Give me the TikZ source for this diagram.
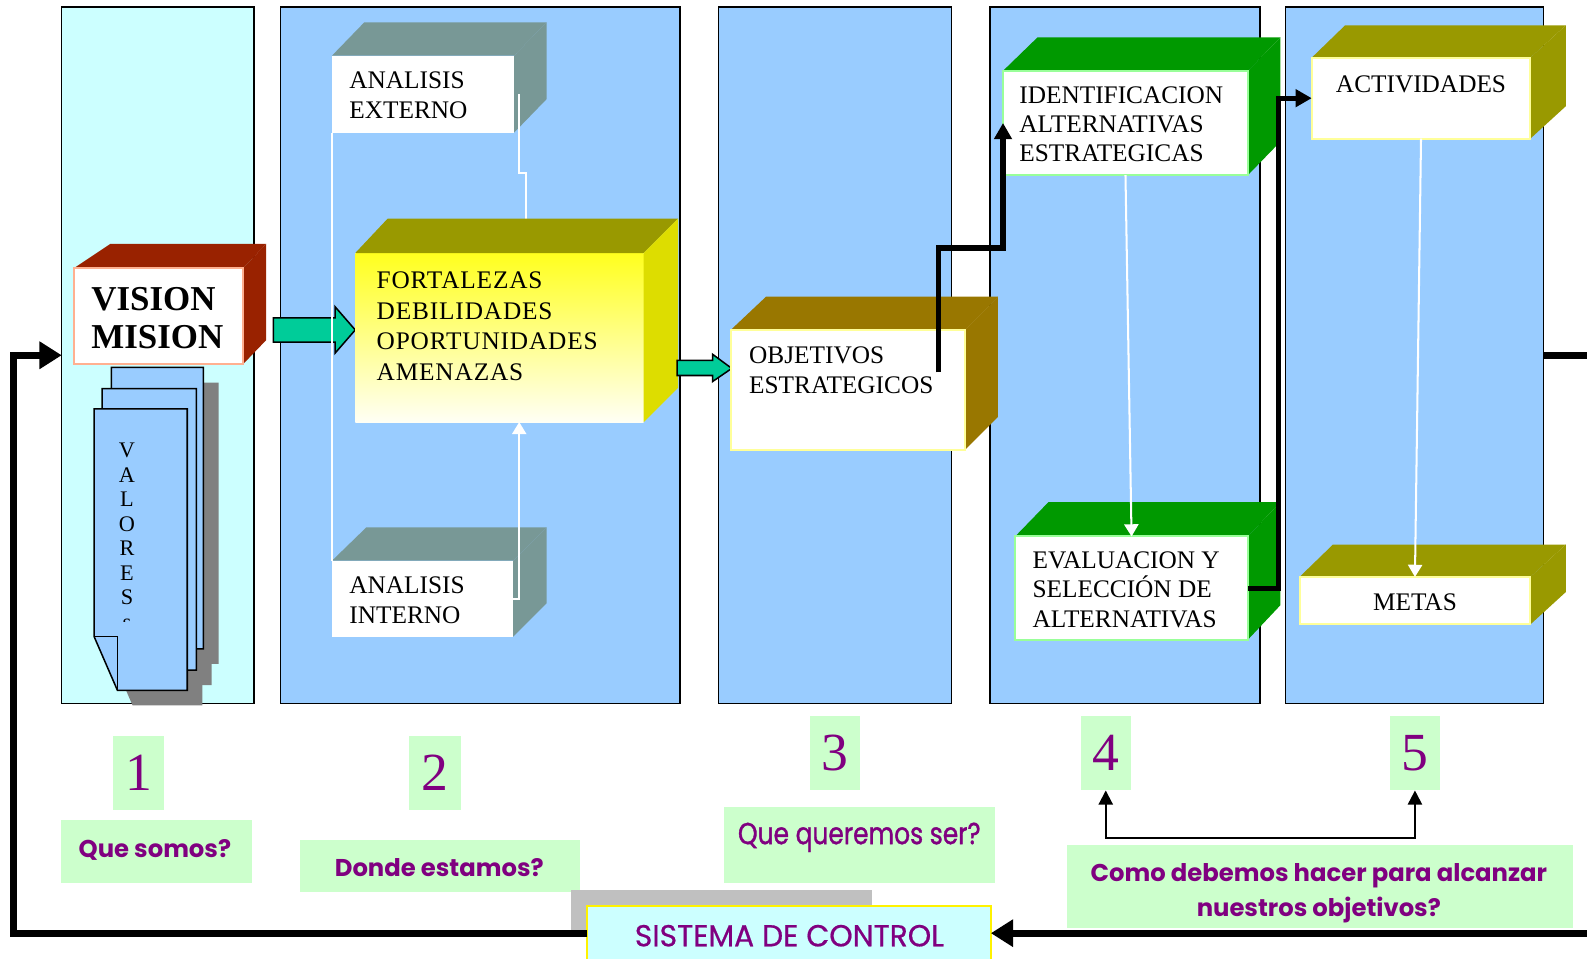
\documentclass[tikz,border=0pt]{standalone}
\usepackage{fontspec}
\setmainfont{Liberation Serif}
\newfontfamily\serifwide{Liberation Serif}[LetterSpace=3.4]
\newfontfamily\lblfont{Poppins}
\newfontfamily\lblnarrow{Poppins}[FakeStretch=0.82,FakeBold=1.2]
\newfontfamily\lblsemi{Poppins}[FakeStretch=0.98,FakeBold=0.6]
\usetikzlibrary{arrows.meta}

\definecolor{panelcyan}{RGB}{204,255,255}
\definecolor{panelblue}{RGB}{153,204,255}
\definecolor{vmred}{RGB}{153,34,0}
\definecolor{vmedge}{RGB}{255,176,144}
\definecolor{slate}{RGB}{120,152,150}
\definecolor{olive}{RGB}{153,153,0}
\definecolor{lemon}{RGB}{221,221,0}
\definecolor{bronze}{RGB}{153,119,0}
\definecolor{leaf}{RGB}{0,153,0}
\definecolor{mint}{RGB}{153,255,153}
\definecolor{paleyellow}{RGB}{255,255,153}
\definecolor{labelgreen}{RGB}{204,255,204}
\definecolor{plum}{RGB}{128,0,128}
\definecolor{jade}{RGB}{0,204,153}
\definecolor{shadowgray}{RGB}{128,128,128}
\definecolor{silver}{RGB}{192,192,192}

% 3D box: front face node, top and side faces, then the front outline
\newcommand\cubebox[6]{%
  \node[cubefront,#3,anchor=north west] (#1) at #2 {};
  \fill[cubetop] (#1.north west) -- ++(#4,-#6) -- ([shift={(#5,-#6)}]#1.north east) -- (#1.north east) -- cycle;
  \fill[cubeside] (#1.north east) -- ([shift={(#5,-#6)}]#1.north east) -- ([shift={(#5,-#6)}]#1.south east) -- (#1.south east) -- cycle;
  \draw[cubeedge] (#1.north west) rectangle (#1.south east);
}
% sheet with a folded lower-left corner, top-left corner at (#1,#2), bottom-right at (#3,#4)
\newcommand\sheetpath[4]{(#1,#2) -- (#3,#2) -- (#3,#4) -- (#1+23,#4) -- (#1,#4-53) -- cycle}

\tikzset{
  panel/.style={draw=black, line width=1.5pt, anchor=north west, inner sep=0pt, outer sep=0pt, minimum height=688pt},
  cubefront/.style={fill=white, draw=none, inner sep=0pt, outer sep=0pt},
  cubetop/.style={fill=olive},
  cubeside/.style={fill=olive},
  cubeedge/.style={draw=none},
  boxtext/.style={font=\rmfamily\fontsize{25}{29.5}\selectfont, inner sep=0pt, align=left, anchor=north west},
  docpage/.style={fill=panelblue, draw=black, line width=1.5pt, line join=miter},
  docshadow/.style={fill=shadowgray},
  blockarrow/.style={fill=jade, draw=black, line width=1.5pt, line join=miter},
  wline/.style={draw=white, line width=2pt},
  warrow/.style={draw=white, line width=2pt, -{Triangle[width=14pt,length=12pt]}},
  conn/.style={line width=5pt, line join=miter, -{Triangle[width=17pt,length=16pt]}},
  loopline/.style={line width=7pt, line join=miter},
  looptip/.style={-{Triangle[width=26pt,length=22pt]}},
  numbox/.style={fill=labelgreen, inner sep=0pt, outer sep=0pt, anchor=north west, text=plum, font=\rmfamily\fontsize{53}{53}\selectfont},
  qbox/.style={fill=labelgreen, inner sep=0pt, outer sep=0pt, anchor=north west},
  qtext/.style={text=plum, inner sep=0pt, anchor=base, font=\lblfont\bfseries\fontsize{24}{30}\selectfont},
}

\begin{document}
\begin{tikzpicture}[x=1pt,y=-1pt]
\useasboundingbox (0,0) rectangle (1568,947);
\fill[white] (0,0) rectangle (1568,947);

% ---------- columns ----------
\node[panel, fill=panelcyan, minimum width=190pt] (p1) at (61,7) {};
\node[panel, fill=panelblue, minimum width=395pt] (p2) at (277,7) {};
\node[panel, fill=panelblue, minimum width=230pt] (p3) at (710,7) {};
\node[panel, fill=panelblue, minimum width=267pt] (p4) at (978,7) {};
\node[panel, fill=panelblue, minimum width=255pt] (p5) at (1270,7) {};

% ---------- stack of value sheets ----------
\begin{scope}[shift={(15,15)}]
  \fill[docshadow] \sheetpath{110}{363}{201}{641};
  \fill[docshadow] \sheetpath{101}{384}{194}{662};
  \fill[docshadow] \sheetpath{93}{404}{185}{682};
\end{scope}
\draw[docpage] \sheetpath{110}{363}{201}{641};
\draw[docpage] \sheetpath{101}{384}{194}{662};
\draw[docpage] \sheetpath{93}{404}{185}{682};
\draw[black, line width=1.5pt] (93,629) -- (116,629) -- (116,682);
\begin{scope}
  \clip (93,404) rectangle (185,614);
  \node[inner sep=0pt, anchor=north, align=center, font=\fontsize{22}{24.2}\selectfont] (valores)
    at (125.5,437.6) {V\\A\\L\\O\\R\\E\\S\\s};
\end{scope}

% ---------- vision / mission ----------
\begin{scope}[cubetop/.style={fill=vmred}, cubeside/.style={fill=vmred}, cubeedge/.style={draw=vmedge, line width=2pt}]
  \cubebox{vm}{(73,265)}{minimum width=167pt,minimum height=95pt}{36}{23}{24}
\end{scope}
\node[boxtext, font=\bfseries\fontsize{34.5}{37.5}\selectfont] (vmt) at (90,283.4) {VISION\\MISION};

\draw[blockarrow] (270,314) -- (331,314) -- (331,303) -- (351,326) -- (331,349) -- (331,338) -- (270,338) -- cycle;

% ---------- diagnosis ----------
\begin{scope}[cubetop/.style={fill=slate}, cubeside/.style={fill=slate}]
  \cubebox{ae}{(328,55)}{minimum width=180pt,minimum height=76pt}{32}{32}{33}
  \cubebox{ai}{(328,554)}{minimum width=179pt,minimum height=75pt}{34}{33}{33}
\end{scope}
\node[boxtext] (aet) at (345,70.6) {ANALISIS\\EXTERNO};
\node[boxtext] (ait) at (345,569.6) {ANALISIS\\INTERNO};

\coordinate (fotop) at (520,216);
\draw[wline] (ae.south west) -- (ai.north west);
\draw[wline] ([xshift=5pt]ae.east) -- (513,171) -- (520,171) -- (fotop);

\begin{scope}[cubetop/.style={fill=olive}, cubeside/.style={fill=lemon}]
  \cubebox{fo}{(351,250)}{minimum width=285pt,minimum height=167pt,top color={rgb,255:red,255;green,255;blue,30},bottom color={rgb,255:red,255;green,255;blue,245}}{32}{34}{34}
\end{scope}
\node[boxtext, font=\serifwide\fontsize{25}{30.2}\selectfont] (fot) at (372,268.6) {FORTALEZAS\\DEBILIDADES\\OPORTUNIDADES\\AMENAZAS};
\draw[warrow] (ai.east) -- ++(6,0) -- (fo.south -| 513,0);

\draw[blockarrow] (669,356) -- (704,356) -- (704,350) -- (723,364) -- (704,377) -- (704,371) -- (669,371) -- cycle;

% ---------- objectives ----------
\begin{scope}[cubetop/.style={fill=bronze}, cubeside/.style={fill=bronze}, cubeedge/.style={draw=paleyellow, line width=2pt}]
  \cubebox{ob}{(722,326)}{minimum width=231pt,minimum height=119pt}{35}{33}{33}
\end{scope}
\node[boxtext] (obt) at (740,342.6) {OBJETIVOS\\ESTRATEGICOS};

% ---------- strategies ----------
\begin{scope}[cubetop/.style={fill=leaf}, cubeside/.style={fill=leaf}, cubeedge/.style={draw=mint, line width=2pt}]
  \cubebox{id}{(991,70)}{minimum width=242pt,minimum height=103pt}{34}{32}{33}
  \cubebox{ev}{(1003,530)}{minimum width=230pt,minimum height=102pt}{33}{32}{34}
\end{scope}
\node[boxtext, font=\rmfamily\fontsize{25}{28.6}\selectfont] (idt) at (1007,85.6) {IDENTIFICACION\\ALTERNATIVAS\\ESTRATEGICAS};
\node[boxtext, font=\rmfamily\fontsize{25}{29}\selectfont] (evt) at (1020,545) {EVALUACION Y\\SELECCIÓN DE\\ALTERNATIVAS};

% ---------- actions ----------
\begin{scope}[cubetop/.style={fill=olive}, cubeside/.style={fill=olive}, cubeedge/.style={draw=paleyellow, line width=2pt}]
  \cubebox{ac}{(1296,57)}{minimum width=216pt,minimum height=80pt}{33}{35}{32}
  \cubebox{me}{(1284,570)}{minimum width=228pt,minimum height=47pt}{33}{35}{32}
\end{scope}
\node[inner sep=0pt, anchor=base, font=\fontsize{25}{29.5}\selectfont] (act) at (1404,91) {ACTIVIDADES};
\node[inner sep=0pt, anchor=base, font=\fontsize{25}{29.5}\selectfont] (met) at (1398,603) {METAS};

% ---------- flow between boxes ----------
\coordinate (obout) at (927,368);
\draw[conn] (obout) -- (927,245) -| (id.west);
\draw[warrow] (id.south) -- (ev.north);
\draw[conn] (ev.east) -- ++(30,0) |- (ac.west);
\draw[warrow] (ac.south) -- (me.north);

% ---------- stage numbers and questions ----------
\node[numbox, minimum width=50pt, minimum height=73pt] (n1) at (112,727) {1};
\node[numbox, minimum width=51pt, minimum height=73pt] (n2) at (404,727) {2};
\node[numbox, minimum width=50pt, minimum height=74pt] (n3) at (800,707) {3};
\node[numbox, minimum width=49pt, minimum height=74pt] (n4) at (1068,707) {4};
\node[numbox, minimum width=50pt, minimum height=74pt] (n5) at (1373,707) {5};

\node[qbox, minimum width=189pt, minimum height=62pt] (q1) at (60,810) {};
\node[qbox, minimum width=277pt, minimum height=51pt] (q2) at (296,830) {};
\node[qbox, minimum width=268pt, minimum height=75pt] (q3) at (715,797) {};
\node[qbox, minimum width=500pt, minimum height=82pt] (q45) at (1054,835) {};

\node[qtext] (q1t) at (153,847) {Que somos?};
\node[qtext] (q2t) at (434,866) {Donde estamos?};
\node[qtext, font=\lblnarrow\fontsize{30}{32}\selectfont] (q3t) at (849,834) {Que queremos ser?};
\node[qtext] (q45a) at (1303,871) {Como debemos hacer para alcanzar};
\node[qtext] (q45b) at (1303,906) {nuestros objetivos?};

\draw[line width=2pt, {Triangle[width=14pt,length=14pt]}-{Triangle[width=14pt,length=14pt]}]
  (n4.south) -- ++(0,47) -| (n5.south);

% ---------- control loop ----------
\fill[silver] (564,879) rectangle (862,922);
\node[fill=panelcyan, draw=yellow, line width=2pt, minimum width=399pt, minimum height=54pt,
      inner sep=0pt, outer sep=0pt, anchor=north west] (sc) at (580,895) {};
\node[qtext, font=\lblsemi\fontsize{30}{32}\selectfont] (sct) at (780,935) {SISTEMA DE CONTROL};

\coordinate (loopcorner) at (13,922);
\coordinate (rightmid) at (1575,351);
\coordinate (rightlow) at (1575,922);
\draw[loopline] (p5.east) -- (rightmid);
\draw[loopline, looptip] (rightlow) -- (sc.east);
\draw[loopline, looptip] (sc.west) -- (loopcorner) |- (p1.west);
\end{tikzpicture}
\end{document}
